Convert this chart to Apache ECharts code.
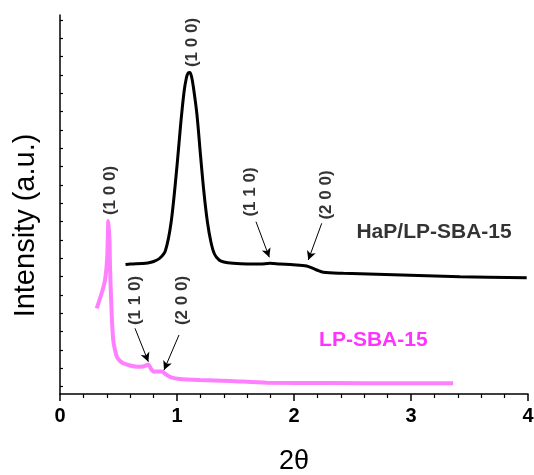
<!DOCTYPE html>
<html>
<head>
<meta charset="utf-8">
<script src="https://cdn.jsdelivr.net/npm/echarts@6/dist/echarts.min.js"></script>
<style>html,body{margin:0;padding:0;background:#fff}#c{width:534px;height:475px}</style>
</head>
<body>
<div id="c"></div>
<script>
// 2θ positions and intensities (arbitrary units)
var hapX = [0.56,0.60,0.70,0.75,0.80,0.85,0.90,0.95,1.00,1.03,1.06,1.08,1.095,1.11,1.125,1.14,1.17,1.20,1.23,1.26,1.29,1.32,1.36,1.40,1.48,1.60,1.71,1.795,1.88,1.994,2.108,2.194,2.251,2.422,2.707,2.991,3.419,3.989];
var hapY = [129.5,130,130.5,131,132.5,135.5,143,172,228,268,302,316,321,321.5,317,307,280,240,202,172,152,140,134,132,130.7,130,130,130.7,130,129.3,128,124,121.7,120.7,119.7,118.7,117.3,116.3];
var lpX = [0.314,0.356,0.385,0.404,0.413,0.423,0.427,0.442,0.455,0.470,0.487,0.513,0.541,0.598,0.658,0.709,0.735,0.756,0.778,0.803,0.838,0.872,0.906,0.949,1.026,1.197,1.453,1.767,2.31,2.91,3.36];
var lpY = [85.7,100.7,114,137.3,173,154,129,79,54,44,37,33,30.7,28.5,27.3,27.5,28.5,29.5,25,22.3,22.5,22.5,19.5,16.7,15,14,13,11.3,11,10.7,10.7];
var xTicks = [0,1,2,3,4];
var yTickValues = [7.5,25.8,44.2,62.5,80.8,99.2,117.5,135.8,154.2,172.5,190.8,209.2,227.5,245.8,264.2,282.5,300.8,319.2,337.5,355.8,374.2];
// annotation labels [x, y, text]
var peakLabels = [[1.132,351.5,'(1 0 0)'],[0.432,203.5,'(1 0 0)'],[1.628,202,'(1 1 0)'],[2.278,199,'(2 0 0)'],[0.645,93.5,'(1 1 0)'],[1.047,93.5,'(2 0 0)']];
// arrows [x1,y1,x2,y2]
var arrows = [[1.675,172.3,1.789,136.7],[2.237,170.7,2.122,134],[0.641,65.7,0.755,32.3],[1.017,59,0.889,24]];
var seriesNames = [[3.197,162,'HaP/LP-SBA-15','#000000'],[2.678,54,'LP-SBA-15','#ff00ff']];

function zip(a,b){var r=[];for(var i=0;i<a.length;i++)r.push([a[i],b[i]]);return r;}
var chart = echarts.init(document.getElementById('c'));
var font = 'Arial, "Liberation Sans", sans-serif';
chart.setOption({
  animation:false,
  grid:{left:60,right:6,top:15,bottom:81,containLabel:false,outerBoundsMode:'none'},
  xAxis:{type:'value',min:0,max:4,interval:1,
    name:'2\u03b8',nameLocation:'middle',nameGap:54,
    nameTextStyle:{fontSize:27,color:'#000',fontFamily:font},
    axisLine:{lineStyle:{color:'#000',width:1.5}},
    axisTick:{show:true,length:7,lineStyle:{color:'#000',width:1.5}},
    minorTick:{show:true,splitNumber:5,length:4,lineStyle:{color:'#000',width:1.2}},
    splitLine:{show:false},
    axisLabel:{fontSize:20,fontWeight:'bold',color:'#000',fontFamily:font,margin:12,
      customValues:xTicks}
  },
  yAxis:{type:'value',min:0,max:379,
    name:'Intensity (a.u.)',nameLocation:'middle',nameGap:20,
    nameTextStyle:{fontSize:29,color:'#000',fontFamily:font,padding:[0,42,0,0]},
    axisLine:{show:true,lineStyle:{color:'#000',width:1.5}},
    axisTick:{show:true,inside:true,length:3,customValues:yTickValues,lineStyle:{color:'#000',width:1.2}},
    axisLabel:{show:false},
    splitLine:{show:false}
  },
  series:[
    {type:'line',name:'HaP/LP-SBA-15',data:zip(hapX,hapY),showSymbol:false,smooth:0.3,
      lineStyle:{color:'#000',width:3},itemStyle:{color:'#000'}},
    {type:'line',name:'LP-SBA-15',data:zip(lpX,lpY),showSymbol:false,smooth:0.2,
      lineStyle:{color:'#ff80ff',width:4},itemStyle:{color:'#ff80ff'}},
    {type:'scatter',symbolSize:0,silent:true,
      data:peakLabels.map(function(p){return {value:[p[0],p[1]],name:p[2]};}),
      label:{show:true,position:'inside',rotate:90,formatter:'{b}',fontSize:17,fontWeight:'bold',color:'#000',
        textBorderWidth:0,textBorderColor:'transparent',fontFamily:font},
      markLine:{silent:true,symbol:['none','arrow'],symbolSize:[7,9],
        label:{show:false},lineStyle:{color:'#000',width:1,type:'solid'},
        data:arrows.map(function(a){return [{coord:[a[0],a[1]]},{coord:[a[2],a[3]]}];})}
    },
    {type:'scatter',symbolSize:0,silent:true,
      data:seriesNames.map(function(s){return {value:[s[0],s[1]],name:s[2],label:{color:s[3]}};}),
      label:{show:true,position:'inside',formatter:'{b}',fontSize:21,fontWeight:'bold',fontFamily:font,
        textBorderWidth:0,textBorderColor:'transparent'}
    }
  ]
});
</script>
</body>
</html>
